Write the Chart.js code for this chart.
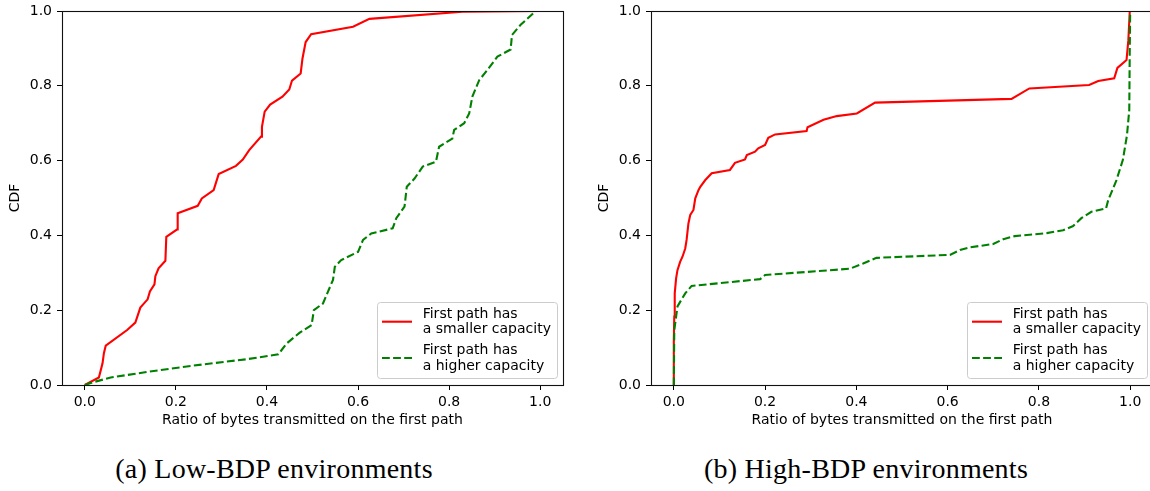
<!DOCTYPE html>
<html>
<head>
<meta charset="utf-8">
<script src="https://cdn.jsdelivr.net/npm/chart.js@4.4.0/dist/chart.umd.min.js"></script>
<style>
html, body { margin: 0; padding: 0; background: #fff; width: 1150px; height: 491px; overflow: hidden; }
body { position: relative; }
.wrap { position: absolute; top: 0; width: 575px; height: 430px; }
.cap { position: absolute; top: 455px; font-family: "Liberation Serif", "Times New Roman", serif; font-size: 28px; line-height: 28px; letter-spacing: 0.25px; color: #000; white-space: nowrap; transform: translateX(-50%); }
</style>
</head>
<body>
<div class="wrap" style="left:0px"><canvas id="c1" width="575" height="430"></canvas></div>
<div class="wrap" style="left:589px"><canvas id="c2" width="575" height="430"></canvas></div>
<div class="cap" style="left:274px">(a) Low-BDP environments</div>
<div class="cap" style="left:866px">(b) High-BDP environments</div>
<script>
// ---- data ----
const xTicks = [0.0, 0.2, 0.4, 0.6, 0.8, 1.0];
const yTicks = [0.0, 0.2, 0.4, 0.6, 0.8, 1.0];
const seriesLabels = ['First path has\na smaller capacity', 'First path has\na higher capacity'];
const xTitle = 'Ratio of bytes transmitted on the first path';
const yTitle = 'CDF';

// (a) Low-BDP: first path smaller capacity
const lowSmallX = [0, 0.031, 0.039, 0.042, 0.046, 0.093, 0.111, 0.122, 0.138, 0.143, 0.153, 0.155, 0.162, 0.177, 0.179, 0.203, 0.204, 0.248, 0.257, 0.283, 0.294, 0.332, 0.347, 0.361, 0.387, 0.389, 0.395, 0.407, 0.434, 0.449, 0.455, 0.474, 0.478, 0.485, 0.497, 0.589, 0.625, 0.829, 1.0];
const lowSmallY = [0, 0.02, 0.058, 0.085, 0.105, 0.147, 0.167, 0.207, 0.229, 0.25, 0.269, 0.291, 0.312, 0.332, 0.396, 0.416, 0.459, 0.479, 0.499, 0.521, 0.564, 0.586, 0.603, 0.628, 0.664, 0.69, 0.731, 0.75, 0.771, 0.79, 0.814, 0.833, 0.873, 0.917, 0.938, 0.958, 0.979, 0.998, 1.0];
// (a) Low-BDP: first path higher capacity
const lowHighX = [0, 0.02, 0.057, 0.137, 0.239, 0.356, 0.425, 0.443, 0.472, 0.498, 0.503, 0.523, 0.545, 0.549, 0.563, 0.6, 0.611, 0.629, 0.676, 0.684, 0.702, 0.707, 0.724, 0.742, 0.771, 0.778, 0.807, 0.811, 0.833, 0.844, 0.851, 0.866, 0.887, 0.906, 0.935, 0.938, 0.957, 0.99];
const lowHighY = [0, 0.008, 0.02, 0.035, 0.052, 0.069, 0.082, 0.111, 0.14, 0.16, 0.2, 0.218, 0.281, 0.316, 0.334, 0.356, 0.388, 0.405, 0.419, 0.446, 0.477, 0.53, 0.552, 0.584, 0.597, 0.637, 0.659, 0.682, 0.7, 0.726, 0.771, 0.815, 0.847, 0.878, 0.897, 0.936, 0.963, 1.0];

// (b) High-BDP: first path smaller capacity
const highSmallX = [0, 0, 0.001, 0.002, 0.005, 0.008, 0.014, 0.019, 0.025, 0.028, 0.032, 0.036, 0.043, 0.047, 0.054, 0.058, 0.069, 0.083, 0.123, 0.134, 0.156, 0.16, 0.178, 0.185, 0.2, 0.207, 0.222, 0.291, 0.293, 0.328, 0.357, 0.401, 0.441, 0.74, 0.779, 0.91, 0.93, 0.965, 0.972, 0.992, 0.996, 0.999, 1.0];
const highSmallY = [0, 0.12, 0.183, 0.245, 0.285, 0.307, 0.33, 0.343, 0.365, 0.388, 0.432, 0.455, 0.468, 0.499, 0.521, 0.53, 0.548, 0.566, 0.575, 0.594, 0.603, 0.615, 0.624, 0.633, 0.642, 0.661, 0.67, 0.679, 0.689, 0.709, 0.719, 0.726, 0.755, 0.765, 0.793, 0.802, 0.813, 0.82, 0.848, 0.869, 0.922, 0.998, 1.0];
// (b) High-BDP: first path higher capacity
const highHighX = [0, 0.001, 0.005, 0.008, 0.025, 0.039, 0.189, 0.2, 0.386, 0.415, 0.444, 0.605, 0.627, 0.649, 0.7, 0.722, 0.747, 0.817, 0.853, 0.875, 0.893, 0.915, 0.947, 0.952, 0.961, 0.97, 0.984, 0.993, 0.998, 0.999, 1.0];
const highHighY = [0, 0.147, 0.183, 0.21, 0.245, 0.265, 0.283, 0.294, 0.311, 0.325, 0.34, 0.348, 0.361, 0.368, 0.377, 0.39, 0.398, 0.406, 0.414, 0.425, 0.446, 0.463, 0.472, 0.495, 0.521, 0.548, 0.602, 0.668, 0.735, 0.887, 1.0];

// ---- helpers ----
const pts = (xs, ys) => xs.map((x, i) => ({ x: x, y: ys[i] }));
const FONT = '"DejaVu Sans", sans-serif';
Chart.defaults.color = '#000';
Chart.defaults.font.family = FONT;
Chart.defaults.font.size = 14;

const framePlugin = {
  id: 'frame',
  afterDatasetsDraw(chart) {
    const { ctx, chartArea: a } = chart;
    ctx.save();
    ctx.strokeStyle = '#111';
    ctx.lineWidth = 1.1;
    ctx.strokeRect(Math.round(a.left) + 0.5, Math.round(a.top) + 0.5, Math.round(a.right - a.left), Math.round(a.bottom - a.top));
    ctx.restore();
  }
};

const legendPlugin = {
  id: 'mplLegend',
  afterDraw(chart) {
    const { ctx, chartArea: a } = chart;
    const w = 180, h = 76;
    const x = Math.round(a.right - 6 - w), y = Math.round(a.bottom - 7 - h);
    ctx.save();
    const r = 3;
    ctx.beginPath();
    ctx.moveTo(x + r + 0.5, y + 0.5);
    ctx.lineTo(x + w - r + 0.5, y + 0.5);
    ctx.arcTo(x + w + 0.5, y + 0.5, x + w + 0.5, y + r + 0.5, r);
    ctx.lineTo(x + w + 0.5, y + h - r + 0.5);
    ctx.arcTo(x + w + 0.5, y + h + 0.5, x + w - r + 0.5, y + h + 0.5, r);
    ctx.lineTo(x + r + 0.5, y + h + 0.5);
    ctx.arcTo(x + 0.5, y + h + 0.5, x + 0.5, y + h - r + 0.5, r);
    ctx.lineTo(x + 0.5, y + r + 0.5);
    ctx.arcTo(x + 0.5, y + 0.5, x + r + 0.5, y + 0.5, r);
    ctx.closePath();
    ctx.fillStyle = 'rgba(255,255,255,0.8)';
    ctx.fill();
    ctx.strokeStyle = '#cccccc';
    ctx.lineWidth = 1;
    ctx.stroke();
    chart.data.datasets.forEach((ds, i) => {
      const cy = y + 19.7 + i * 36.3;
      ctx.beginPath();
      ctx.setLineDash(ds.borderDash || []);
      ctx.strokeStyle = ds.borderColor;
      ctx.lineWidth = ds.borderWidth;
      ctx.moveTo(x + 5, cy);
      ctx.lineTo(x + 35, cy);
      ctx.stroke();
      ctx.setLineDash([]);
      ctx.fillStyle = '#000';
      ctx.font = '14px ' + FONT;
      ctx.textBaseline = 'middle';
      ctx.textAlign = 'left';
      ds.label.split('\n').forEach((t, j) => ctx.fillText(t, x + 45.7, y + 12 + i * 36.3 + j * 15.6));
    });
    ctx.restore();
  }
};

function makeChart(id, redX, redY, greenX, greenY, yTitlePad, rightPad) {
  return new Chart(document.getElementById(id), {
    type: 'line',
    data: {
      datasets: [
        { label: seriesLabels[0], data: pts(redX, redY), borderColor: '#ff0000', borderWidth: 2.1, pointRadius: 0, tension: 0, fill: false, order: 2 },
        { label: seriesLabels[1], data: pts(greenX, greenY), borderColor: '#008000', borderWidth: 2.1, borderDash: [7.8, 3.3], pointRadius: 0, tension: 0, fill: false, order: 1 }
      ]
    },
    options: {
      responsive: false,
      animation: false,
      devicePixelRatio: 1,
      layout: { padding: { top: 11, right: rightPad, left: 0, bottom: 0 } },
      plugins: { legend: { display: false }, tooltip: { enabled: false } },
      scales: {
        x: {
          type: 'linear', min: -0.05, max: 1.05,
          afterBuildTicks: s => { s.ticks = xTicks.map(v => ({ value: v })); },
          afterFit: s => { s.height = 45; s.paddingLeft = 0; s.paddingRight = 0; },
          ticks: { autoSkip: false, maxRotation: 0, padding: 4, color: '#000', font: { size: 14 }, callback: v => Number(v).toFixed(1) },
          grid: { drawOnChartArea: false, drawTicks: true, tickLength: 5, tickColor: '#000', tickWidth: 1 },
          border: { display: false },
          title: { display: true, text: xTitle, color: '#000', font: { size: 14 }, padding: { top: 0, bottom: 1 } }
        },
        y: {
          type: 'linear', min: 0, max: 1,
          afterBuildTicks: s => { s.ticks = yTicks.map(v => ({ value: v })); },
          afterFit: s => { s.width = 62; s.paddingTop = 0; s.paddingBottom = 0; },
          ticks: { autoSkip: false, padding: 5, color: '#000', font: { size: 14 }, callback: v => Number(v).toFixed(1) },
          grid: { drawOnChartArea: false, drawTicks: true, tickLength: 5, tickColor: '#000', tickWidth: 1 },
          border: { display: false },
          title: { display: true, text: yTitle, color: '#000', font: { size: 14 }, padding: { top: 6.6, bottom: 0 } }
        }
      }
    },
    plugins: [framePlugin, legendPlugin]
  });
}

makeChart('c1', lowSmallX, lowSmallY, lowHighX, lowHighY, 6.6, 12);
makeChart('c2', highSmallX, highSmallY, highHighX, highHighY, 6.6, 11);
</script>
</body>
</html>
